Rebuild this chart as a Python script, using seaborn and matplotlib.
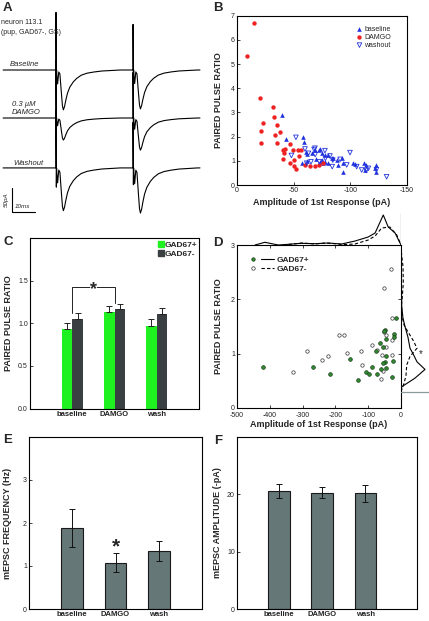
import numpy as np
import pandas as pd
import matplotlib
matplotlib.use("Agg")
import matplotlib.pyplot as plt
from matplotlib.lines import Line2D
from matplotlib.legend_handler import HandlerTuple
import seaborn as sns

# ---------------- data ----------------
# A: example traces (pA, ms)
trace_names = ["Baseline", "DAMGO", "Washout"]
trace_offset_pA = [0, -100, -204]
epsc1_pA = [83, 46, 89]
epsc2_pA = [81, 67, 94]
stim_ms = [0.0, 33.5]
artifact_up_pA = [120, 95]
artifact_down_pA = [40, 35]
epsc_t_ms = [0.3, 0.7, 1.2, 1.7, 2.3, 2.8, 3.2, 3.7, 4.3, 5.0, 6.0, 7.5, 9.0, 11.0, 13.5, 16.5, 20.0, 28.0]
epsc_shape = [-0.10, -0.35, -0.05, -0.10, -0.55, -0.90, -1.0, -0.92, -0.75, -0.58, -0.43, -0.30,
              -0.21, -0.13, -0.08, -0.05, -0.025, 0.0]
trace_start_ms, trace_end_ms = -23.0, 62.6

# B: paired pulse ratio vs amplitude
b_base_x = [-40, -43, -58.5, -59, -60.6, -61.5, -66, -68.8, -73, -74.7, -77.7, -80.6, -83.5, -61.5,
            -57, -70, -73, -76, -72.6, -74.7, -77.6, -80.6, -85, -88, -92.4, -89.4, -93.3, -93.8,
            -102.6, -104, -112.4, -113.6, -113, -121.8, -123, -122.6]
b_base_y = [2.88, 1.90, 1.98, 1.79, 1.38, 1.28, 1.31, 1.45, 1.48, 1.34, 1.26, 1.22, 1.12, 0.99,
            0.90, 1.06, 0.96, 0.90, 1.45, 1.03, 0.96, 0.90, 1.10, 1.03, 1.10, 0.83, 0.55, 0.90,
            0.92, 0.88, 0.92, 0.84, 0.63, 0.69, 0.83, 0.55]
b_damgo_x = [-8.8, -15.3, -20, -22.7, -21.2, -21.5, -31.5, -32.9, -35, -33.5, -35.3, -37.9, -40.9,
             -41.8, -40.3, -47, -46.8, -50.6, -52, -49.4, -53.5, -56.4, -50.6, -64.7, -68.8, -42,
             -55, -60, -72, -76]
b_damgo_y = [5.35, 6.7, 3.6, 2.55, 2.25, 1.75, 3.21, 2.82, 2.48, 2.07, 1.72, 2.2, 1.45,
             1.31, 1.06, 1.68, 0.9, 1.03, 0.65, 1.45, 1.45, 1.45, 0.8, 0.79, 0.79, 1.5,
             1.2, 0.82, 0.82, 0.9]
b_wash_x = [-52, -60, -63, -68, -69, -65.3, -61.5, -72.6, -78, -84.5, -68.8, -77.6, -82, -91,
            -96.8, -99.7, -105.6, -115.9, -114, -123, -132, -84, -110, -48]
b_wash_y = [1.97, 1.49, 1.31, 1.47, 1.26, 0.96, 0.9, 0.96, 1.10, 1.03, 1.52, 1.42, 1.20, 1.06,
            0.83, 1.34, 0.76, 0.69, 0.6, 0.63, 0.34, 0.76, 0.62, 1.22]

# C: PPR by cell type
c_conditions = ["baseline", "DAMGO", "wash"]
c_groups = ["GAD67+", "GAD67-"]
c_mean_pos = [0.93, 1.13, 0.97]
c_sem_pos = [0.07, 0.07, 0.08]
c_mean_neg = [1.05, 1.17, 1.11]
c_sem_neg = [0.07, 0.06, 0.07]

# D: PPR vs amplitude by cell type
d_pos_x = [-422, -269, -216, -155, -130, -108, -98, -87, -74, -61, -77, -65, -49, -47, -46, -49,
           -54, -46, -22, -22, -15, -27, -23, -56, -51]
d_pos_y = [0.76, 0.75, 0.63, 0.90, 0.51, 0.67, 0.62, 0.76, 0.63, 0.71, 1.04, 1.20, 1.44, 1.27,
           0.95, 0.84, 0.82, 0.74, 1.36, 1.30, 1.66, 0.57, 0.86, 1.12, 1.42]
d_neg_x = [-328, -287, -242, -223, -190, -173, -166, -123, -120, -87, -74, -62, -56, -51, -46,
           -30, -27, -27, -28, -51, -47, -59]
d_neg_y = [0.66, 1.04, 0.88, 0.95, 1.34, 1.34, 1.02, 1.04, 0.80, 1.16, 1.07, 0.53, 0.69, 2.20,
           1.13, 2.56, 1.66, 1.25, 0.98, 1.39, 1.34, 0.98]
d_top_pos_x = [-445, -415, -374, -343, -303, -262, -222, -181, -140, -100, -79, -54, -39, -18, 0]
d_top_pos_h = [0, 2.7, 0, 0.7, 1.7, 1.3, 2, 1, 4, 8, 12, 30, 18, 12, 0]
d_top_neg_x = [-343, -303, -262, -231, -190, -181, -140, -100, -79, -59, -34, -13, 0]
d_top_neg_h = [0.5, 2, 1, 2, 1, 0.3, 1, 5, 9, 17, 18, 10, 0]
d_right_pos_y = [0.3, 0.39, 0.55, 0.71, 0.85, 1.0, 1.1, 1.3, 1.5, 1.65, 1.87, 3.0]
d_right_pos_w = [0, 0.7, 14, 24, 16, 12, 9, 7, 4, 2, 0.7, 0]
d_right_neg_y = [0.3, 0.45, 0.6, 0.79, 0.95, 1.1, 1.25, 1.4, 1.53, 1.7, 1.9, 2.05, 2.3, 2.6, 2.85]
d_right_neg_w = [0, 3, 5, 5.7, 9, 16, 12, 7, 3, 1, 0.5, 1.3, 2.3, 2, 0.5]

# E, F: mEPSC
e_conditions = ["baseline", "DAMGO", "wash"]
e_mean = [1.88, 1.08, 1.35]
e_sem = [0.44, 0.22, 0.23]
f_mean = [20.6, 20.3, 20.2]
f_sem = [1.2, 0.9, 1.45]

# ---------------- style ----------------
sns.set_style("ticks")
plt.rcParams["font.family"] = ["Liberation Sans", "DejaVu Sans"]
plt.rcParams["axes.unicode_minus"] = False

W, H = 429, 621
fig = plt.figure(figsize=(W / 100, H / 100), dpi=100)


def rect(l, t, r, b):
    return [l / W, 1 - b / H, (r - l) / W, (b - t) / H]


def ftext(x, y, s, **kw):
    fig.text(x / W, 1 - y / H, s, **kw)


def box(ax, left_only=False):
    for s in ax.spines.values():
        s.set_visible(True)
        s.set_linewidth(0.8)
        s.set_color("black")
    ax.tick_params(direction="in", length=2.5, width=0.6, labelsize=5, pad=1.5,
                   colors="#222222")
    if left_only:
        ax.tick_params(axis="x", length=0, pad=1.5, labelsize=5.5)
        for lab in ax.get_xticklabels():
            lab.set_fontweight("bold")


LBL = dict(fontsize=6.5, fontweight="bold")
green = "#1ff01f"
dgray = "#3a3f42"
slate = "#667777"
blue = "#2233dd"
red = "#ee2222"

# ---------------- A ----------------
axA = fig.add_axes(rect(0, 10, 205, 220))
for i, name in enumerate(trace_names):
    t = [trace_start_ms]
    cur = [0.0]
    amps = [epsc1_pA[i], epsc2_pA[i]]
    for k, s0 in enumerate(stim_ms):
        t += [s0 - 0.01, s0, s0 + 0.15, s0 + 0.25]
        cur += [0.0, artifact_up_pA[k], -artifact_down_pA[k], 0.0]
        t += [s0 + tt for tt in epsc_t_ms]
        cur += [amps[k] * v for v in epsc_shape]
    t.append(trace_end_ms)
    cur.append(0.0)
    y = [c + trace_offset_pA[i] for c in cur]
    sns.lineplot(x=t, y=y, sort=False, estimator=None, color="black", lw=0.8, ax=axA)
axA.set_xlim(-24.35, 64.78)
axA.set_ylim(-312.5, 125)
axA.axis("off")
axA.plot([-19.13, -19.13, -9.13], [-245.8, -295.8, -295.8], color="black", lw=0.8)

ftext(1, 22, "neuron 113.1", fontsize=5, va="center")
ftext(1, 33, "(pup, GAD67-, GS)", fontsize=5, va="center")
ftext(10, 64, "Baseline", fontsize=5.5, style="italic", va="center")
ftext(12, 105, "0.3 \u00b5M", fontsize=5.5, style="italic", va="center")
ftext(12, 113, "DAMGO", fontsize=5.5, style="italic", va="center")
ftext(13, 163, "Washout", fontsize=5.5, style="italic", va="center")
ftext(6.5, 200, "50pA", fontsize=4.5, style="italic", rotation=90, va="center", ha="center")
ftext(23, 207, "10ms", fontsize=4.5, style="italic", va="center", ha="center")

# ---------------- B ----------------
axB = fig.add_axes(rect(237, 15.7, 407, 185))
sns.scatterplot(x=b_base_x, y=b_base_y, marker="^", color=blue, s=11, linewidth=0,
                ax=axB, label="baseline")
sns.scatterplot(x=b_damgo_x, y=b_damgo_y, marker="o", color=red, s=10, linewidth=0,
                ax=axB, label="DAMGO")
sns.scatterplot(x=b_wash_x, y=b_wash_y, marker="v", color="none", edgecolor=blue, s=11,
                linewidth=0.6, ax=axB, label="washout")
axB.set_xlim(0, -150)
axB.set_ylim(0, 7)
axB.set_xticks([0, -50, -100, -150])
axB.set_yticks(range(8))
box(axB)
axB.set_xlabel("Amplitude of 1st Response (pA)", **LBL)
axB.set_ylabel("PAIRED PULSE RATIO", **LBL)
axB.xaxis.set_label_coords(0.5, -0.075)
axB.yaxis.set_label_coords(-0.082, 0.5)
axB.legend(loc="upper left", bbox_to_anchor=(0.70, 0.94), frameon=False, fontsize=5,
           handletextpad=0.2, labelspacing=0.15, handlelength=1, borderaxespad=0, borderpad=0)

# ---------------- C ----------------
axC = fig.add_axes(rect(30, 238, 199, 408.5))
df_c = pd.DataFrame({
    "condition": c_conditions * 2,
    "group": [c_groups[0]] * 3 + [c_groups[1]] * 3,
    "ratio": c_mean_pos + c_mean_neg,
})
sns.barplot(data=df_c, x="condition", y="ratio", hue="group", palette=[green, dgray],
            width=0.5, errorbar=None, saturation=1, linewidth=0, ax=axC, legend=False)
for cont, sems in zip(axC.containers, [c_sem_pos, c_sem_neg]):
    xs = [b.get_x() + b.get_width() / 2 for b in cont]
    hs = [b.get_height() for b in cont]
    axC.errorbar(xs, hs, yerr=[np.zeros(3), sems], fmt="none", ecolor="#222222",
                 elinewidth=0.7, capsize=2, capthick=0.7)
axC.set_xlim(-1, 3)
axC.set_ylim(0, 2.0)
axC.set_yticks([0, 0.5, 1.0, 1.5])
axC.set_yticklabels(["0.0", "0.5", "1.0", "1.5"])
axC.set_xlabel("")
axC.set_ylabel("PAIRED PULSE RATIO", **LBL)
axC.yaxis.set_label_coords(-0.10, 0.5)
box(axC, left_only=True)
axC.plot([0, 0, 1, 1], [1.12, 1.43, 1.43, 1.24], color="#222222", lw=0.7)
axC.text(0.5, 1.40, "*", fontsize=13, fontweight="bold", ha="center", va="center",
         bbox=dict(fc="white", ec="none", pad=0.3))
hC = [Line2D([], [], marker="s", ls="", color=c, markersize=4) for c in [green, dgray]]
axC.legend(hC, c_groups, loc="upper right", bbox_to_anchor=(0.99, 0.98), frameon=False,
           prop=dict(size=6, weight="bold"), handletextpad=0.1, labelspacing=0.1,
           handlelength=0.8, borderaxespad=0, borderpad=0)

# ---------------- D ----------------
axD = fig.add_axes(rect(237, 245, 401, 408))
sns.scatterplot(x=d_neg_x, y=d_neg_y, marker="o", color="white", edgecolor="#333333", s=6,
                linewidth=0.5, ax=axD)
sns.scatterplot(x=d_pos_x, y=d_pos_y, marker="o", color="#2e8b2e", edgecolor="#1c3a1c", s=7,
                linewidth=0.5, ax=axD)
axD.set_xlim(-500, 0)
axD.set_ylim(0, 3)
axD.set_xticks(range(-500, 1, 100))
axD.set_yticks([0, 1, 2, 3])
box(axD)
axD.tick_params(top=True, right=True)
axD.tick_params(axis="x", pad=3.2)
axD.set_xlabel("Amplitude of 1st Response (pA)", **LBL)
axD.set_ylabel("PAIRED PULSE RATIO", **LBL)
axD.xaxis.set_label_coords(0.5, -0.072)
axD.yaxis.set_label_coords(-0.085, 0.5)
hd_pos = (Line2D([], [], marker="o", ls="", color="#2e8b2e", mec="#1c3a1c", ms=2.5, mew=0.5),
          Line2D([], [], color="black", lw=0.8))
hd_neg = (Line2D([], [], marker="o", ls="", color="white", mec="#333333", ms=2.5, mew=0.5),
          Line2D([], [], color="black", lw=0.8, ls=(0, (3, 2))))
axD.legend([hd_pos, hd_neg], c_groups, handler_map={tuple: HandlerTuple(ndivide=None, pad=0.3)},
           loc="upper left", bbox_to_anchor=(0.06, 0.93), frameon=False,
           prop=dict(size=6, weight="bold"), handlelength=3.2, handletextpad=0.4,
           labelspacing=0.1, borderaxespad=0, borderpad=0)

axT = fig.add_axes(rect(237, 213, 401, 245))
sns.lineplot(x=d_top_pos_x, y=d_top_pos_h, sort=False, estimator=None, color="black", lw=0.8,
             ax=axT)
sns.lineplot(x=d_top_neg_x, y=d_top_neg_h, sort=False, estimator=None, color="black", lw=0.8,
             dashes=(3, 2), ax=axT)
axT.set_xlim(-500, 0)
axT.set_ylim(0, 32)
for s in axT.spines.values():
    s.set_visible(False)
axT.set_xticks([])
axT.set_yticks([])
axT.axvline(0, color="#8a9a9a", lw=0.9)
axT.patch.set_alpha(0)

axR = fig.add_axes(rect(401, 245, 429, 408))
sns.lineplot(x=d_right_pos_w, y=d_right_pos_y, sort=False, estimator=None, orient="y",
             color="black", lw=0.8, ax=axR)
sns.lineplot(x=d_right_neg_w, y=d_right_neg_y, sort=False, estimator=None, orient="y",
             color="black", lw=0.8, dashes=(3, 2), ax=axR)
axR.set_xlim(0, 28)
axR.set_ylim(0, 3)
for s in axR.spines.values():
    s.set_visible(False)
axR.set_xticks([])
axR.set_yticks([])
axR.axhline(0.3, color="#8a9a9a", lw=0.9)
axR.text(20, 1.0, "*", fontsize=7, ha="center", va="center")
axR.patch.set_alpha(0)

# ---------------- E ----------------
axE = fig.add_axes(rect(29, 437, 202, 609))
sns.barplot(x=e_conditions, y=e_mean, color=slate, edgecolor="#1a1a1a", linewidth=0.8,
            width=0.5, saturation=1, errorbar=None, ax=axE)
xs = [b.get_x() + b.get_width() / 2 for b in axE.containers[0]]
axE.errorbar(xs, e_mean, yerr=e_sem, fmt="none", ecolor="#111111", elinewidth=0.7, capsize=2.5,
             capthick=0.7)
axE.set_xlim(-1, 3)
axE.set_ylim(0, 4)
axE.set_yticks([0, 1, 2, 3])
axE.set_ylabel("mEPSC FREQUENCY (Hz)", **LBL)
axE.yaxis.set_label_coords(-0.098, 0.5)
box(axE, left_only=True)
axE.text(xs[1], 1.45, "*", fontsize=15, fontweight="bold", ha="center", va="center")

# ---------------- F ----------------
axF = fig.add_axes(rect(237, 437, 417, 609))
sns.barplot(x=e_conditions, y=f_mean, color=slate, edgecolor="#1a1a1a", linewidth=0.8,
            width=0.5, saturation=1, errorbar=None, ax=axF)
xs = [b.get_x() + b.get_width() / 2 for b in axF.containers[0]]
axF.errorbar(xs, f_mean, yerr=f_sem, fmt="none", ecolor="#111111", elinewidth=0.7, capsize=2.5,
             capthick=0.7)
axF.set_xlim(-0.98, 3.2)
axF.set_ylim(0, 30)
axF.set_yticks([0, 10, 20])
axF.set_ylabel("mEPSC AMPLITUDE (-pA)", **LBL)
axF.yaxis.set_label_coords(-0.083, 0.5)
box(axF, left_only=True)

# panel letters
for letter, (x, y) in zip("ABCDEF", [(7, 8), (218, 8), (8, 242), (218, 243), (8, 440), (218, 441)]):
    ftext(x, y, letter, fontsize=9.5, fontweight="bold", ha="center", va="center")

fig.savefig("out.png", dpi=100)
